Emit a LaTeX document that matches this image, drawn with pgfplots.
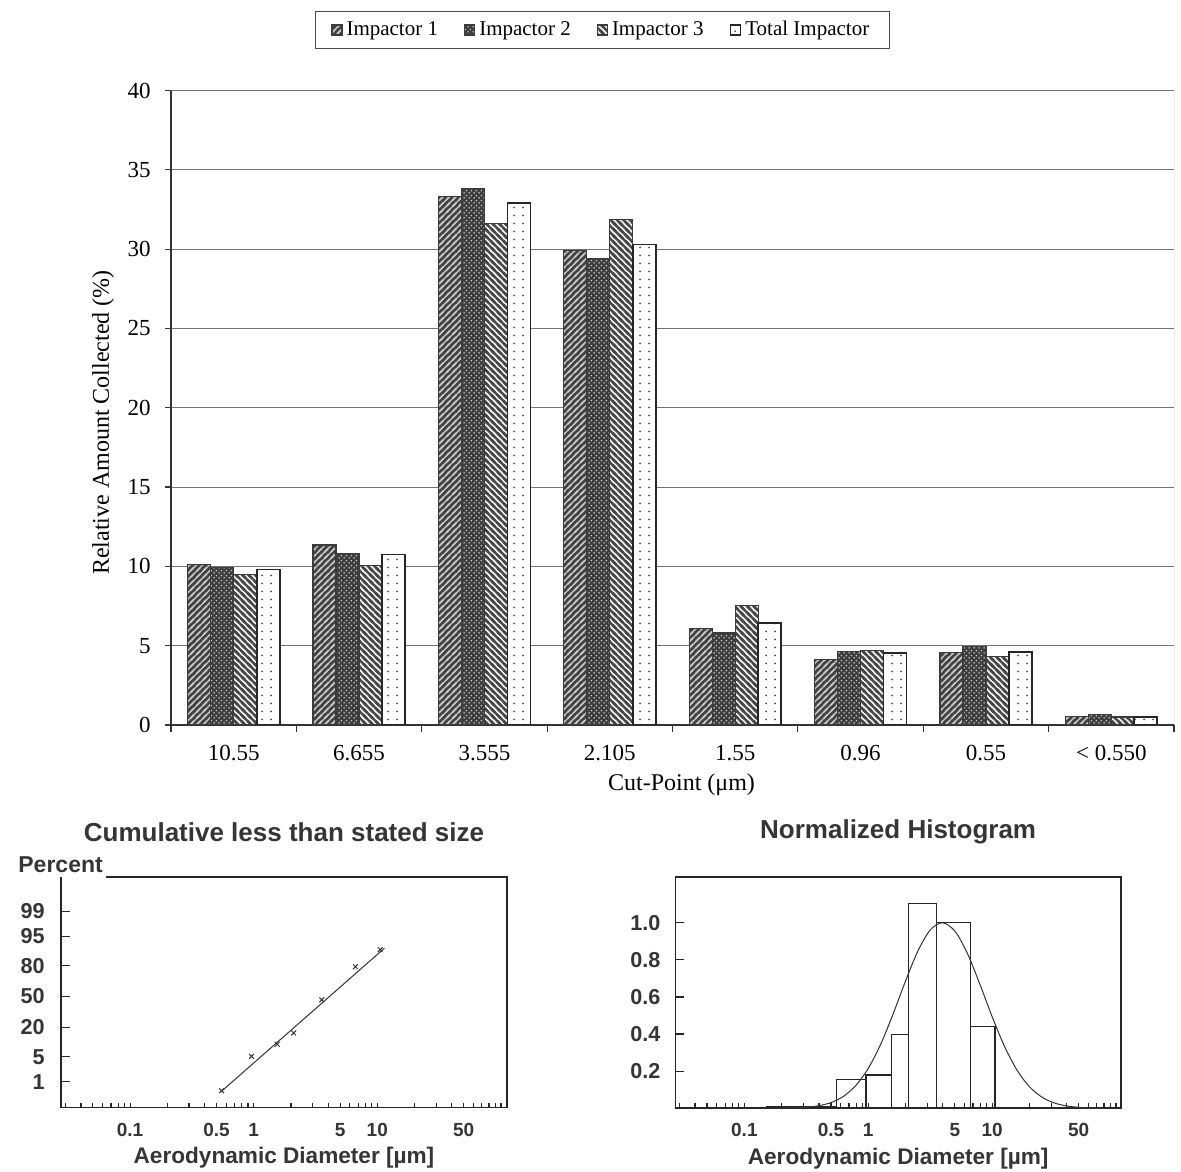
\documentclass[border=0pt]{standalone}
\usepackage{pgfplots}
\pgfplotsset{compat=1.18}
\usetikzlibrary{patterns}
\usepackage{fontspec}
\setmainfont{Liberation Serif}
\newfontfamily\arialf{Liberation Sans}
\definecolor{barline}{HTML}{3C3C3C}
\definecolor{subtext}{HTML}{353535}

\pgfdeclarepatternformonly{NEfine}{\pgfqpoint{-1pt}{-1pt}}{\pgfqpoint{4.2pt}{4.2pt}}{\pgfqpoint{3.2pt}{3.2pt}}{%
  \pgfsetlinewidth{0.65pt}%
  \pgfpathmoveto{\pgfqpoint{-1pt}{-1pt}}\pgfpathlineto{\pgfqpoint{4.2pt}{4.2pt}}%
  \pgfpathmoveto{\pgfqpoint{2.2pt}{-1pt}}\pgfpathlineto{\pgfqpoint{4.2pt}{1pt}}%
  \pgfpathmoveto{\pgfqpoint{-1pt}{2.2pt}}\pgfpathlineto{\pgfqpoint{1pt}{4.2pt}}%
  \pgfusepath{stroke}}
\pgfdeclarepatternformonly{NWfine}{\pgfqpoint{-1pt}{-1pt}}{\pgfqpoint{4.2pt}{4.2pt}}{\pgfqpoint{3.2pt}{3.2pt}}{%
  \pgfsetlinewidth{1.15pt}%
  \pgfpathmoveto{\pgfqpoint{-1pt}{4.2pt}}\pgfpathlineto{\pgfqpoint{4.2pt}{-1pt}}%
  \pgfpathmoveto{\pgfqpoint{-1pt}{1pt}}\pgfpathlineto{\pgfqpoint{1pt}{-1pt}}%
  \pgfpathmoveto{\pgfqpoint{2.2pt}{4.2pt}}\pgfpathlineto{\pgfqpoint{4.2pt}{2.2pt}}%
  \pgfusepath{stroke}}
\pgfdeclarepatternformonly{DotsA}{\pgfqpoint{0pt}{0pt}}{\pgfqpoint{2.6pt}{2.6pt}}{\pgfqpoint{2.6pt}{2.6pt}}{%
  \pgfpathcircle{\pgfqpoint{0.65pt}{0.65pt}}{0.45pt}%
  \pgfpathcircle{\pgfqpoint{1.95pt}{1.95pt}}{0.45pt}%
  \pgfusepath{fill}}
\pgfdeclarepatternformonly{DotsB}{\pgfqpoint{0pt}{0pt}}{\pgfqpoint{4.3pt}{4pt}}{\pgfqpoint{4.3pt}{4pt}}{%
  \pgfpathcircle{\pgfqpoint{2.15pt}{2pt}}{0.55pt}%
  \pgfusepath{fill}}

\pgfplotsset{
  sqleg/.style={legend image code/.code={\draw[##1] (0pt,-2.5pt) rectangle (5pt,2.5pt);}},
}

\begin{document}
\begin{tikzpicture}
\path[use as bounding box] (0,0) rectangle (590.5pt,585.5pt);

% ---------------- main bar chart ----------------
\begin{axis}[
  at={(85.5pt,223pt)}, anchor=south west,
  scale only axis, width=501.5pt, height=317.2pt,
  ybar=0pt, bar width=11.5pt,
  xmin=-0.5, xmax=7.5, ymin=0, ymax=40,
  axis x line*=bottom, axis y line*=left,
  axis line style={black!80, line width=0.6pt},
  xtick={0,...,7},
  xticklabels={10.55,6.655,3.555,2.105,1.55,0.96,0.55,{< 0.550}},
  every major x tick/.append style={draw=none},
  minor xtick={-0.5,0.5,...,7.5},
  tick align=outside,
  major tick length=3pt, minor tick length=3.5pt,
  tick style={black!80, line width=0.6pt},
  ytick={0,5,...,35},
  extra y ticks={40}, extra y tick style={grid=none},
  ymajorgrids, grid style={black!55, line width=0.5pt},
  /pgf/number format/assume math mode=true,
  ticklabel style={font=\fontsize{11.5}{13}\selectfont},
  yticklabel style={inner sep=0pt, xshift=-7pt},
  xticklabel style={inner sep=0pt, yshift=-7pt},
  every axis y label/.style={at={(axis description cs:-0.0678,0.477)}, rotate=90, anchor=center, font=\fontsize{12}{14}\selectfont},
  every axis x label/.style={at={(axis description cs:0.509,-0.0946)}, anchor=center, font=\fontsize{12}{14}\selectfont},
  ylabel={Relative Amount Collected (\%)},
  xlabel={Cut-Point (μm)},
  legend style={at={(0.43,1.0955)}, anchor=center, legend columns=4,
    draw=black!70, line width=0.5pt, font=\fontsize{10.5}{12}\selectfont,
    /tikz/every even column/.append style={column sep=11pt},
    inner xsep=8pt, inner ysep=3pt},
  legend cell align=left,
]
\draw[black!55, line width=0.5pt] (rel axis cs:0,1) -- (rel axis cs:1,1) -- (rel axis cs:1,0);
\addplot[sqleg, draw=barline, line width=0.6pt, fill=black!74,
  postaction={pattern color=white!78!black, pattern=NEfine}]
  coordinates {(0,10.1) (1,11.35) (2,33.3) (3,29.9) (4,6.1) (5,4.15) (6,4.55) (7,0.52)};
\addplot[sqleg, draw=barline, line width=0.6pt, fill=black!76,
  postaction={pattern color=white!80!black, pattern=DotsA}]
  coordinates {(0,9.95) (1,10.8) (2,33.85) (3,29.4) (4,5.8) (5,4.65) (6,4.95) (7,0.65)};
\addplot[sqleg, draw=barline, line width=0.6pt, fill=white!94!black,
  postaction={pattern color=black!72, pattern=NWfine}]
  coordinates {(0,9.5) (1,10.05) (2,31.6) (3,31.85) (4,7.55) (5,4.7) (6,4.3) (7,0.5)};
\addplot[sqleg, draw=black!85, line width=0.9pt, fill=white,
  postaction={pattern color=black!70, pattern=DotsB}]
  coordinates {(0,9.8) (1,10.75) (2,32.9) (3,30.3) (4,6.45) (5,4.55) (6,4.6) (7,0.5)};
\legend{Impactor 1, Impactor 2, Impactor 3, Total Impactor}
\end{axis}

% ---------------- cumulative plot ----------------
\begin{axis}[
  at={(30.5pt,31.65pt)}, anchor=south west,
  scale only axis, width=223pt, height=115.35pt,
  xmode=log, xmin=0.0276, xmax=112, ymin=-3.04, ymax=3.27,
  axis x line*=bottom, axis y line*=left,
  axis line style={black!85, line width=0.8pt},
  tick align=inside,
  xtick={0.1,0.5,1,5,10,50}, xticklabels={0.1,0.5,1,5,10,50},
  every major x tick/.append style={draw=none},
  minor xtick={0.03,0.04,0.05,0.06,0.07,0.08,0.09,0.1,0.2,0.3,0.4,0.5,0.6,0.7,0.8,0.9,1,2,3,4,5,6,7,8,9,10,20,30,40,50,60,70,80,90,100},
  minor tick length=2.5pt, major tick length=4.5pt,
  ytick={-2.326,-1.645,-0.842,0,0.842,1.645,2.326},
  yticklabels={1,5,20,50,80,95,99},
  tick style={black!85, line width=0.6pt},
  xticklabel style={font=\arialf\bfseries\fontsize{9.5}{11}\selectfont, text=subtext, inner sep=0pt, anchor=north, yshift=-7.8pt},
  yticklabel style={font=\arialf\bfseries\fontsize{10.8}{12}\selectfont, text=subtext, inner sep=0pt, anchor=east, xshift=-8pt},
  every axis title/.style={at={(axis description cs:0.5,1.196)}, anchor=center, font=\arialf\bfseries\fontsize{13}{15}\selectfont, text=subtext},
  title={Cumulative less than stated size},
  every axis x label/.style={at={(axis description cs:0.5,-0.218)}, anchor=center, font=\arialf\bfseries\fontsize{11.3}{13}\selectfont, text=subtext},
  xlabel={Aerodynamic Diameter [µm]},
  clip=false,
]
\draw[black!85, line width=0.8pt] (rel axis cs:0.1009,1) -- (rel axis cs:1,1) -- (rel axis cs:1,0);
\node[anchor=west, inner sep=0pt, font=\arialf\bfseries\fontsize{11.5}{13}\selectfont, text=subtext] at (axis description cs:-0.0964,1.052) {Percent};
\addplot[black!80, line width=0.5pt] coordinates {(0.556,-2.574) (11.4,1.32)};
\addplot[only marks, mark=x, mark size=1.7pt, black!80, mark options={line width=0.5pt}]
  coordinates {(0.55,-2.576) (0.96,-1.635) (1.55,-1.305) (2.105,-0.994) (3.555,-0.090) (6.655,0.817) (10.55,1.2816)};
\end{axis}

% ---------------- normalized histogram ----------------
\begin{axis}[
  at={(337.65pt,31.35pt)}, anchor=south west,
  scale only axis, width=222.85pt, height=115.5pt,
  xmode=log, xmin=0.0277, xmax=109.7, ymin=0, ymax=1.245,
  axis line style={black!85, line width=0.8pt},
  tick align=inside, tick pos=left,
  xtick={0.1,0.5,1,5,10,50}, xticklabels={0.1,0.5,1,5,10,50},
  every major x tick/.append style={draw=none},
  minor xtick={0.03,0.04,0.05,0.06,0.07,0.08,0.09,0.1,0.2,0.3,0.4,0.5,0.6,0.7,0.8,0.9,1,2,3,4,5,6,7,8,9,10,20,30,40,50,60,70,80,90,100},
  minor tick length=2.5pt, major tick length=4.5pt,
  ytick={0.2,0.4,0.6,0.8,1.0},
  yticklabel={\pgfmathprintnumber[fixed,fixed zerofill,precision=1]{\tick}},
  /pgf/number format/assume math mode=true,
  tick style={black!85, line width=0.6pt},
  xticklabel style={font=\arialf\bfseries\fontsize{9.5}{11}\selectfont, text=subtext, inner sep=0pt, anchor=north, yshift=-7.5pt},
  yticklabel style={font=\arialf\bfseries\fontsize{10.8}{12}\selectfont, text=subtext, inner sep=0pt, anchor=east, xshift=-7.2pt},
  every axis title/.style={at={(axis description cs:0.5,1.196)}, anchor=center, font=\arialf\bfseries\fontsize{13}{15}\selectfont, text=subtext},
  title={Normalized Histogram},
  every axis x label/.style={at={(axis description cs:0.5,-0.218)}, anchor=center, font=\arialf\bfseries\fontsize{11.3}{13}\selectfont, text=subtext},
  xlabel={Aerodynamic Diameter [µm]},
]
\addplot[ybar interval, draw=black!85, fill=none, line width=0.6pt]
  coordinates {(0.15,0.007) (0.55,0.157) (0.96,0.179) (1.55,0.399) (2.105,1.105) (3.555,1.0) (6.655,0.443) (10.55,0)};
\addplot[smooth, black!80, line width=0.5pt] coordinates {
 (0.1585,0.0002) (0.1995,0.0007) (0.2512,0.0021) (0.3162,0.0055) (0.3981,0.0137)
 (0.5012,0.0311) (0.6310,0.0645) (0.7943,0.1231) (1,0.2152) (1.2589,0.3450)
 (1.5849,0.5075) (1.9953,0.6846) (2.5119,0.8469) (3.1623,0.9609) (3.9811,1.0)
 (5.0119,0.9543) (6.3096,0.8353) (7.9433,0.6705) (10,0.4937) (12.589,0.3333)
 (15.849,0.2064) (19.953,0.1172) (25.119,0.0610) (31.623,0.0292) (39.811,0.0128)
 (50.119,0.0051) (63.096,0.0019) (79.433,0.0006)};
\end{axis}
\end{tikzpicture}
\end{document}
